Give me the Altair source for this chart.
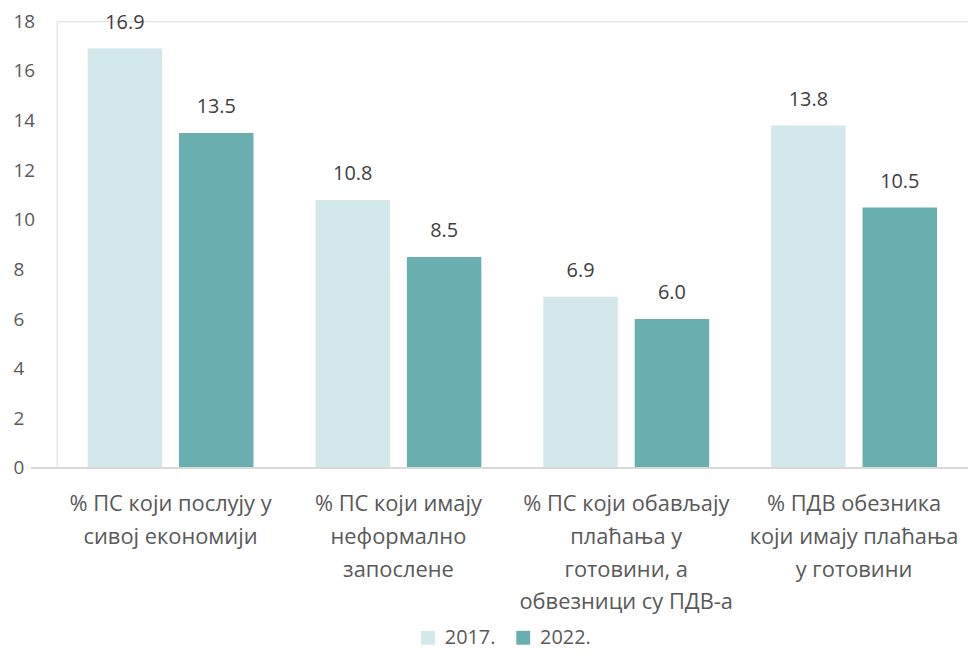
import altair as alt
import pandas as pd

# ---- data ----
categories = [
    ["% ПС који послују у", "сивој економији"],
    ["% ПС који имају", "неформално", "запослене"],
    ["% ПС који обављају", "плаћања у", "готовини, а", "обвезници  су ПДВ-а"],
    ["% ПДВ обезника", "који имају плаћања", "у готовини"],
]
years = ["2017.", "2022."]
values_2017 = [16.9, 10.8, 6.9, 13.8]
values_2022 = [13.5, 8.5, 6.0, 10.5]
y_ticks = [0, 2, 4, 6, 8, 10, 12, 14, 16, 18]
colors = ["#D3E8EA", "#6AAFAF"]

cat_keys = ["|".join(c) for c in categories]
rows = []
for i, key in enumerate(cat_keys):
    rows.append({"cat": key, "year": years[0], "value": values_2017[i]})
    rows.append({"cat": key, "year": years[1], "value": values_2022[i]})
df = pd.DataFrame(rows)

FONT = "Open Sans"
TEXT_COLOR = "#595959"

x_enc = alt.X(
    "cat:N",
    sort=cat_keys,
    scale=alt.Scale(paddingInner=0, paddingOuter=0),
    axis=alt.Axis(
        title=None,
        domain=False,
        ticks=False,
        tickSize=0,
        labelAngle=0,
        labelExpr="split(datum.label, '|')",
        labelFontSize=22,
        labelLineHeight=33,
        labelColor=TEXT_COLOR,
        labelFont=FONT,
        labelPadding=26,
        labelBaseline="top",
        labelOverlap=False,
        labelLimit=0,
        labelBound=False,
    ),
)
xoff_enc = alt.XOffset(
    "year:N",
    sort=years,
    scale=alt.Scale(paddingInner=0.185, paddingOuter=0.339),
)
y_enc = alt.Y(
    "value:Q",
    scale=alt.Scale(domain=[0, 18], nice=False),
    axis=alt.Axis(
        title=None,
        values=y_ticks,
        grid=False,
        domain=False,
        ticks=False,
        tickSize=0,
        labelFontSize=19,
        labelColor=TEXT_COLOR,
        labelFont=FONT,
        labelAlign="left",
        labelPadding=44,
        labelBaseline="middle",
    ),
)
color_enc = alt.Color(
    "year:N",
    sort=years,
    scale=alt.Scale(domain=years, range=colors),
    legend=alt.Legend(
        title=None,
        orient="none",
        direction="horizontal",
        legendX=364,
        legendY=611,
        symbolType="square",
        symbolSize=196,
        symbolStrokeWidth=0,
        labelFontSize=20,
        labelFont=FONT,
        labelColor=TEXT_COLOR,
        labelOffset=7,
        columnPadding=18,
        padding=0,
    ),
)

base = alt.Chart(df)

bars = base.mark_bar(size=75).encode(
    x=x_enc, xOffset=xoff_enc, y=y_enc, color=color_enc
)

labels = base.mark_text(
    dy=-20, baseline="alphabetic", align="center",
    fontSize=20, font=FONT, color="#404040"
).encode(
    x=alt.X("cat:N", sort=cat_keys),
    xOffset=alt.XOffset("year:N", sort=years),
    y=alt.Y("value:Q"),
    text=alt.Text("value:Q", format=".1f"),
)

baseline = alt.Chart(alt.Data(values=[{}])).mark_rule(
    color="#D9D9D9", strokeWidth=2
).encode(
    x=alt.value(-26), x2=alt.value(918), y=alt.value(450)
)

chart = (
    alt.layer(bars, baseline, labels)
    .properties(
        width=918,
        height=450,
        autosize=alt.AutoSizeParams(type="none"),
        padding={"left": 49, "top": 11, "right": 0, "bottom": 185},
    )
    .configure_view(stroke=None)
    .configure(font=FONT, background="white")
)

chart.save("out.html", embed_options={"renderer": "svg", "actions": False})
